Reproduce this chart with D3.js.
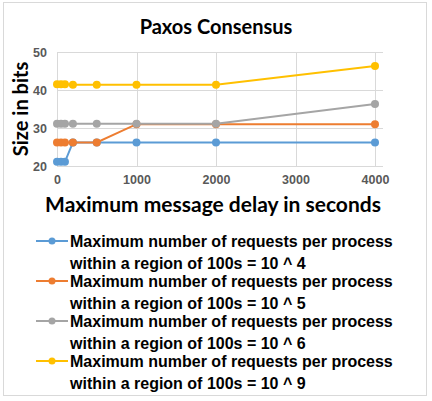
<!DOCTYPE html>
<meta charset="utf-8">
<style>
  body { margin: 0; background: #fff; }
  svg { display: block; font-family: Lato, "Open Sans", sans-serif; font-weight: bold; }
  .grid line { stroke: #d9d9d9; stroke-width: 1px; }
  .tick text { fill: #595959; font-size: 12.5px; font-weight: bold; }
  .legtext { font-family: "Liberation Sans", Arial, sans-serif; }
</style>
<body>
<svg width="432" height="401"></svg>
<script src="https://cdn.jsdelivr.net/npm/d3@7"></script>
<script>
  // delays (x) and sizes in bits for each series
  var delays = [0, 50, 100, 200, 500, 1000, 2000, 4000];
  var pow4 = [21.1, 21.1, 21.1, 26.2, 26.2, 26.2, 26.2, 26.2];
  var pow5 = [26.2, 26.2, 26.2, 26.2, 26.2, 31, 31, 31];
  var pow6 = [31.1, 31.1, 31.1, 31.1, 31.1, 31.1, 31.1, 36.3];
  var pow9 = [41.5, 41.5, 41.5, 41.4, 41.4, 41.4, 41.4, 46.3];
  var seriesNames = ["10 ^ 4", "10 ^ 5", "10 ^ 6", "10 ^ 9"];
  var colors = ["#5b9bd5", "#ed7d31", "#a5a5a5", "#ffc000"];
  var xTicks = [0, 1000, 2000, 3000, 4000];
  var yTicks = [20, 30, 40, 50];

  var series = [pow4, pow5, pow6, pow9].map(function(vals, i) {
    return { name: seriesNames[i], color: colors[i],
             pts: vals.map(function(v, j) { return [delays[j], v]; }) };
  });

  var svg = d3.select("svg");

  // outer frame
  svg.append("rect")
    .attr("x", 3.5).attr("y", 2.5).attr("width", 423).attr("height", 393)
    .attr("fill", "#fff").attr("stroke", "#d9d9d9");

  var x = d3.scaleLinear().domain([0, 4000]).range([57, 375]);
  var y = d3.scaleLinear().domain([20, 50]).range([166, 52]);

  // gridlines
  var grid = svg.append("g").attr("class", "grid");
  grid.selectAll(".h").data(yTicks).join("line")
    .attr("x1", 57).attr("x2", 383)
    .attr("y1", function(d) { return y(d) + 0.5; })
    .attr("y2", function(d) { return y(d) + 0.5; });
  grid.selectAll(".v").data(xTicks).join("line")
    .attr("y1", 52).attr("y2", 166)
    .attr("x1", function(d) { return Math.round(x(d)) + 0.5; })
    .attr("x2", function(d) { return Math.round(x(d)) + 0.5; });

  // axes (labels only)
  var xAxis = svg.append("g").attr("transform", "translate(0,166)")
    .call(d3.axisBottom(x).tickValues(xTicks).tickFormat(d3.format("d")).tickSize(0).tickPadding(9));
  xAxis.select(".domain").remove();
  var yAxis = svg.append("g").attr("transform", "translate(57,0)")
    .call(d3.axisLeft(y).tickValues(yTicks).tickSize(0).tickPadding(10));
  yAxis.select(".domain").remove();
  svg.selectAll(".tick text").attr("font-family", null);

  // lines and points
  var line = d3.line()
    .x(function(d) { return x(d[0]); })
    .y(function(d) { return y(d[1]); });

  var g = svg.selectAll(".series").data(series).join("g");
  g.append("path")
    .attr("d", function(d) { return line(d.pts); })
    .attr("fill", "none")
    .attr("stroke", function(d) { return d.color; })
    .attr("stroke-width", 2);
  g.selectAll("circle").data(function(d) { return d.pts.map(function(p) { return { p: p, c: d.color }; }); })
    .join("circle")
    .attr("cx", function(d) { return x(d.p[0]); })
    .attr("cy", function(d) { return y(d.p[1]); })
    .attr("r", 4)
    .attr("fill", function(d) { return d.c; });

  // titles
  svg.append("text").attr("x", 216).attr("y", 34).attr("text-anchor", "middle")
    .attr("font-size", 20).text("Paxos Consensus");
  svg.append("text").attr("transform", "translate(28,109) rotate(-90)")
    .attr("text-anchor", "middle").attr("font-size", 20).text("Size in bits");
  svg.append("text").attr("x", 213).attr("y", 212).attr("text-anchor", "middle")
    .attr("font-size", 21).text("Maximum message delay in seconds");

  // legend
  var leg = svg.selectAll(".leg").data(series).join("g")
    .attr("transform", function(d, i) { return "translate(0," + (241 + i * 40) + ")"; });
  leg.append("line").attr("x1", 36).attr("x2", 68).attr("y1", 0).attr("y2", 0)
    .attr("stroke", function(d) { return d.color; }).attr("stroke-width", 2);
  leg.append("circle").attr("cx", 52).attr("cy", 0).attr("r", 3.5)
    .attr("fill", function(d) { return d.color; });
  leg.append("text").attr("class", "legtext").attr("x", 70).attr("y", 6).attr("font-size", 16)
    .text("Maximum number of requests per process");
  leg.append("text").attr("class", "legtext").attr("x", 70).attr("y", 28).attr("font-size", 16)
    .text(function(d) { return "within a region of 100s = " + d.name; });
</script>
</body>
